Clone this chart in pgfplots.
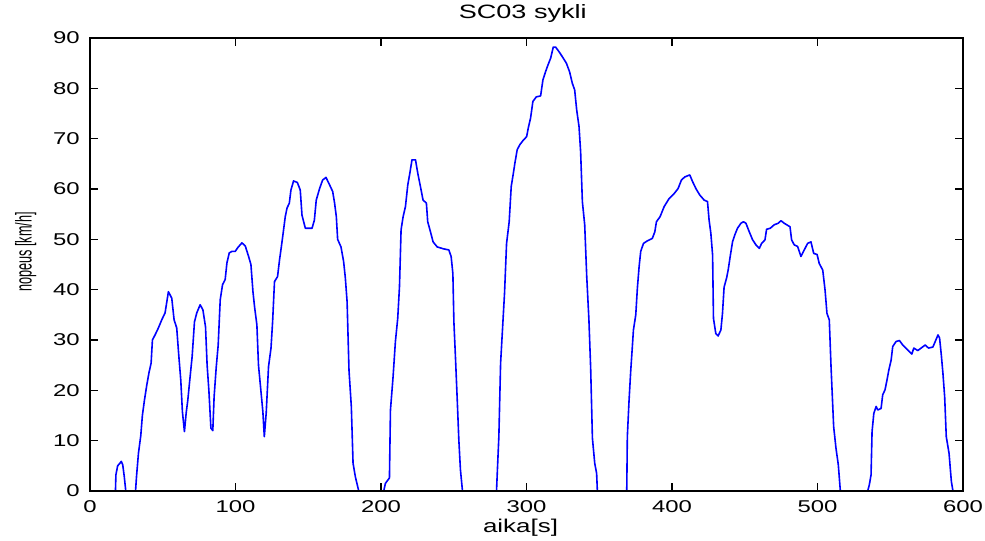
\documentclass[border=0pt]{standalone}
\usepackage{fontspec}
\usepackage{graphicx}
\usepackage{pgfplots}
\pgfplotsset{compat=1.18}
\setmainfont{Liberation Sans}
\newfontfamily\widefont[FakeStretch=1.4]{Liberation Sans}
\definecolor{mblue}{RGB}{0,0,255}

\begin{document}
\begin{tikzpicture}
\useasboundingbox (-67.5pt,-36.75pt) rectangle (671.25pt,368.25pt);
\begin{axis}[
 at={(0pt,0pt)}, anchor=south west,
 scale only axis, width=654.75pt, height=339.75pt,
 xmin=0, xmax=600, ymin=0, ymax=90,
 xtick={0,100,...,600}, ytick={0,10,...,90},
 tick align=inside, major tick length=6pt,
 axis line style={line width=0.9pt},
 tick style={line width=0.9pt, black},
 axis on top,
 /pgf/number format/assume math mode=true,
 tick label style={font=\widefont\fontsize{12.8}{14}\selectfont, inner sep=0pt},
 xticklabel style={yshift=-6.75pt},
 yticklabel style={xshift=-7.5pt},
 title={SC03 sykli},
 title style={at={(axis description cs:0.5,1)}, anchor=base, yshift=9pt,
   xshift=-2.8pt, inner sep=0pt, font=\widefont\fontsize{14.5}{16}\selectfont},
 xlabel={aika[s]},
 xlabel style={at={(axis description cs:0.5,0)}, anchor=north, yshift=-21pt,
   xshift=-4.5pt, inner sep=0pt, font=\widefont\fontsize{13.9}{15}\selectfont},
 ylabel={\scalebox{1}[1.8]{nopeus [km/h]}},
 ylabel style={at={(axis description cs:-0.0668,0.5276)}, anchor=base,
   inner sep=0pt, font=\fontsize{9.5}{11}\selectfont},
]

% speed trace
\addplot[mblue, line width=1.2pt, line join=round, no marks] coordinates {
 (0,0) (17.5,0) (17.8,3.2) (19.0,5.0) (20.5,5.5) (21.5,5.9) (22.5,5.2)
 (23.5,3.0) (24.6,0) (31.3,0) (32,3) (33.3,7.5) (34.9,11) (36,15) (37.4,18)
 (39,21) (40.6,23.6) (42,25.4) (42.9,30) (44.7,31) (47,32.4) (49.3,34)
 (51.6,35.4) (53.9,39.6) (56.2,38.3) (57.8,34) (59.6,32.4) (61,27) (62.4,22)
 (63.5,15.8) (64.9,11.8) (66.1,15.5) (67.2,18) (68.8,22.7) (70.2,26.7)
 (71.8,33.6) (73.4,35.4) (75.7,37) (77.6,36) (79.4,32.6) (80.5,25) (81.7,20)
 (83.1,12.5) (84.4,12) (85.3,18.7) (86.7,24.4) (88.1,29) (89.5,38) (91.1,41)
 (92.9,42) (94.1,45.3) (95.7,47.3) (97.5,47.6) (99.8,47.6) (101.4,48.3)
 (104.4,49.3) (106.7,48.7) (109,46.6) (110.6,45) (112,39.6) (113.1,36.6)
 (114.7,33) (115.8,25) (117.2,20.7) (118.8,15.8) (119.8,10.8) (121.1,15.5)
 (122.7,24.7) (124.4,28.4) (125.5,33.6) (126.8,41.6) (128.9,42.6) (130.3,46)
 (131.5,48.5) (132.6,50.9) (134.2,54.5) (135.4,56.2) (137,57.2) (138.1,59.8)
 (139.9,61.6) (142.5,61.3) (144.5,59.8) (145.7,54.8) (148,52.2) (152.6,52.2)
 (154.2,53.8) (155.5,57.8) (157.8,60.1) (159.9,61.8) (162.2,62.3) (164.7,60.8)
 (166.8,59.5) (168.1,57.2) (169.3,54.5) (170.2,50) (172.5,48.5) (174.3,45.6)
 (175.5,42.3) (176.7,37.6) (178,24) (179.6,16.8) (180.8,5.5) (182.4,2.8)
 (184.7,0) (201.9,0) (203,1.5) (205.8,2.6) (206.5,16.1) (208.3,22.7)
 (209.9,29.7) (211.5,34.3) (212.7,40.6) (213.8,51.9) (215.2,54.5) (216.8,56.5)
 (218.4,60.8) (219.8,63.1) (221.3,65.8) (223.7,65.8) (225.3,63.1) (227.1,60.5)
 (228.9,57.8) (231.2,57.2) (232.1,53.5) (234,51.5) (235.8,49.5) (238.6,48.5)
 (243.1,48.1) (246.6,47.9) (248.2,46.6) (249.4,43.2) (250.1,33.6) (251.2,26.4)
 (252.4,18.1) (253.5,10.1) (254.6,4.2) (256,0) (279.4,0) (279.9,3.5) (281,10.8)
 (282.2,25.4) (283.6,32.6) (284.9,39.3) (286.3,49.2) (288.1,53.5) (289.5,60.5)
 (290.9,63) (292,65.1) (293.6,67.8) (295.4,68.8) (297.8,69.7) (300.1,70.4)
 (301.2,72.1) (302.8,74.1) (304.4,77.4) (306.7,78.3) (309.7,78.5) (311.3,81.7)
 (313.1,83.3) (314.7,84.6) (316.6,86) (318.4,88.2) (320,88.2) (322.3,87.3)
 (324.6,86.3) (327.4,85) (329.6,83.3) (331.5,81) (333.1,79.7) (334.5,75.7)
 (336.1,72.4) (337.2,67.4) (338.4,57.5) (340,52.9) (341.4,42.6) (342.9,34)
 (344.1,24.4) (345.3,10.5) (346.9,5.5) (348.2,3.5) (348.7,0) (368.9,0)
 (369.3,10.8) (370.5,18.1) (371.6,23.7) (373.5,32) (375.1,35) (376.2,40.3)
 (377.4,44.6) (378.5,47.6) (380.4,49.2) (383.1,49.7) (386.5,50.2) (388.2,51.5)
 (389.3,53.5) (391.8,54.5) (394.6,56.5) (398,58.1) (401.5,59.1) (404.2,60.1)
 (406.5,61.8) (408.8,62.4) (412.2,62.8) (414.1,61.5) (416.4,60.1) (419.1,58.8)
 (422.1,57.8) (424.4,57.5) (425.5,53.8) (426.7,51.2) (427.9,46.9) (428.5,34.3)
 (430.1,31.3) (431.7,30.8) (433.6,32) (434.7,35.3) (435.8,40.5) (437.5,42.3)
 (438.6,43.9) (440,46.6) (441.6,49.5) (443.2,50.9) (445,52.2) (447.4,53.2)
 (449.1,53.5) (450.8,53.2) (453.1,51.5) (455.4,49.9) (457.7,48.9) (460,48.2)
 (461.6,49.2) (463.9,49.9) (465,52) (467.5,52.2) (470.3,52.9) (473,53.2)
 (474.9,53.7) (477.1,53.2) (481.1,52.5) (482.2,49.9) (484,48.9) (486.3,48.6)
 (488.6,46.6) (490.9,47.9) (493.2,49.2) (495.5,49.5) (497.4,47.2) (499.7,47)
 (501.2,45.2) (503.6,43.9) (505.2,39.9) (506.5,35.3) (508.1,34) (509.3,24.7)
 (511.1,12.8) (512.7,8.5) (514.3,5.2) (515.7,0) (534.5,0) (535.6,1.2)
 (536.8,3.2) (537.5,11.8) (538.7,15.4) (540.3,16.8) (541.4,16.1) (543.7,16.4)
 (544.8,19.1) (546.4,20.1) (547.8,22.1) (549,24) (550.6,26) (551.7,28.7)
 (554,29.7) (556.3,29.9) (558.6,29) (562.1,28) (564.8,27.2) (566.2,28.4)
 (568.9,27.9) (571.2,28.4) (574,29) (576.3,28.4) (579.3,28.6) (580.9,29.7)
 (582.8,31) (583.9,30.4) (585.1,27) (586.2,23.4) (587.4,18.7) (588.5,10.8)
 (590.4,7.5) (592,1.9) (593.1,0) (600,0)
};
\end{axis}
\end{tikzpicture}
\end{document}
